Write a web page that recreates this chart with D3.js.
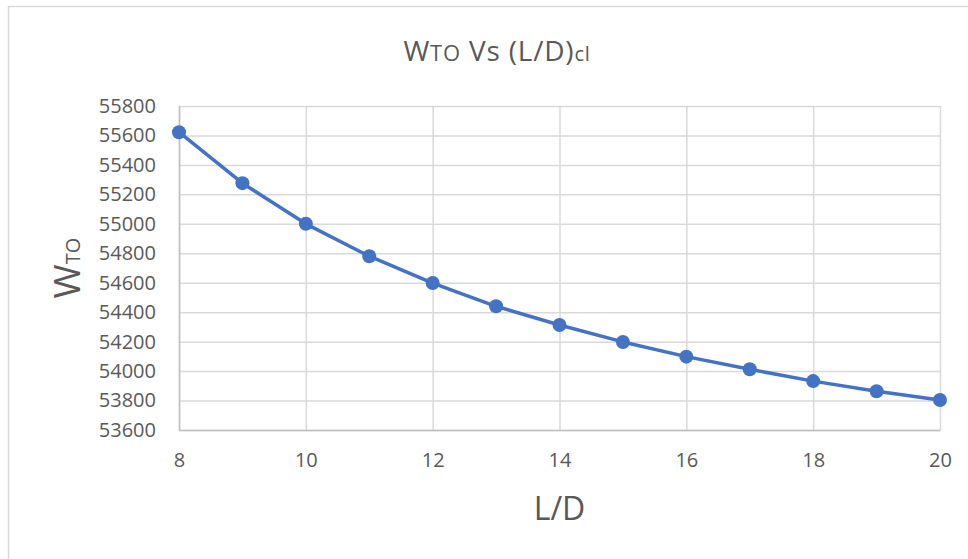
<!DOCTYPE html>
<html>
<head>
<meta charset="utf-8">
<script src="https://cdn.jsdelivr.net/npm/d3@7"></script>
<style>
  html, body { margin: 0; padding: 0; background: #fff; }
  svg { display: block; font-family: "Open Sans", sans-serif; }
</style>
</head>
<body>
<div id="chart"></div>
<script>
// values
const ldRatio = [8, 9, 10, 11, 12, 13, 14, 15, 16, 17, 18, 19, 20];
const wto = [55622, 55276, 55000, 54780, 54598, 54440, 54313, 54198, 54098, 54012, 53932, 53863, 53804];
const xTicks = [8, 10, 12, 14, 16, 18, 20];
const yTicks = [53600, 53800, 54000, 54200, 54400, 54600, 54800, 55000, 55200, 55400, 55600, 55800];

const W = 968, H = 559;
const margin = {top: 106, right: 28, bottom: 129, left: 179};
const width = W - margin.left - margin.right;
const height = H - margin.top - margin.bottom;

const svg = d3.select("#chart").append("svg")
    .attr("width", W)
    .attr("height", H);

// chart border (cut off at right/bottom like the screenshot)
svg.append("rect")
    .attr("x", 8.5).attr("y", 6.5)
    .attr("width", W).attr("height", H)
    .attr("fill", "#fff")
    .attr("stroke", "#d9d9d9")
    .attr("stroke-width", 1.5);

const g = svg.append("g")
    .attr("transform", "translate(" + margin.left + "," + margin.top + ")");

const x = d3.scaleLinear().domain([8, 20]).range([0, width]);
const y = d3.scaleLinear().domain([53600, 55800]).range([height, 0]);

// gridlines
g.append("g")
    .call(d3.axisLeft(y).tickValues(yTicks).tickSize(-width).tickFormat(""))
    .call(a => a.select(".domain").remove())
    .call(a => a.selectAll("line").attr("stroke", "#d9d9d9").attr("stroke-width", 1.5));

g.append("g")
    .attr("transform", "translate(0," + height + ")")
    .call(d3.axisBottom(x).tickValues(xTicks).tickSize(-height).tickFormat(""))
    .call(a => a.select(".domain").remove())
    .call(a => a.selectAll("line").attr("stroke", "#d9d9d9").attr("stroke-width", 1.5));

// axis lines and labels
g.append("g")
    .call(d3.axisLeft(y).tickValues(yTicks).tickSize(0).tickPadding(23).tickFormat(d3.format("d")))
    .call(a => a.select(".domain").attr("stroke", "#bfbfbf").attr("stroke-width", 1.5))
    .call(a => a.selectAll("text").attr("fill", "#595959").attr("font-size", 20)
        .attr("font-family", "Open Sans, sans-serif"));

g.append("g")
    .attr("transform", "translate(0," + height + ")")
    .call(d3.axisBottom(x).tickValues(xTicks).tickSize(0).tickPadding(23).tickFormat(d3.format("d")))
    .call(a => a.select(".domain").attr("stroke", "#bfbfbf").attr("stroke-width", 1.5))
    .call(a => a.selectAll("text").attr("fill", "#595959").attr("font-size", 20)
        .attr("font-family", "Open Sans, sans-serif"));

// series
const pts = ldRatio.map((d, i) => ({ld: d, w: wto[i]}));

g.append("path")
    .datum(pts)
    .attr("fill", "none")
    .attr("stroke", "#4472c4")
    .attr("stroke-width", 3.5)
    .attr("stroke-linejoin", "round")
    .attr("d", d3.line().x(d => x(d.ld)).y(d => y(d.w)));

g.selectAll("circle")
    .data(pts)
    .enter().append("circle")
    .attr("cx", d => x(d.ld))
    .attr("cy", d => y(d.w))
    .attr("r", 7)
    .attr("fill", "#4472c4");

// title
const title = svg.append("text")
    .attr("x", 497).attr("y", 61)
    .attr("text-anchor", "middle")
    .attr("fill", "#595959")
    .attr("font-size", 28)
    .attr("letter-spacing", 0.8);
title.append("tspan").text("W");
title.append("tspan").attr("font-size", 22).text("TO");
title.append("tspan").text(" Vs (L/D)");
title.append("tspan").attr("font-size", 20).text("cl");

// y axis label
const yLab = svg.append("text")
    .attr("transform", "translate(80,268) rotate(-90)")
    .attr("text-anchor", "middle")
    .attr("fill", "#595959")
    .attr("font-size", 37);
yLab.append("tspan").text("W");
yLab.append("tspan").attr("font-size", 20).text("TO");

// x axis label
svg.append("text")
    .attr("x", margin.left + width / 2).attr("y", 520)
    .attr("text-anchor", "middle")
    .attr("fill", "#595959")
    .attr("font-size", 32)
    .text("L/D");
</script>
</body>
</html>
